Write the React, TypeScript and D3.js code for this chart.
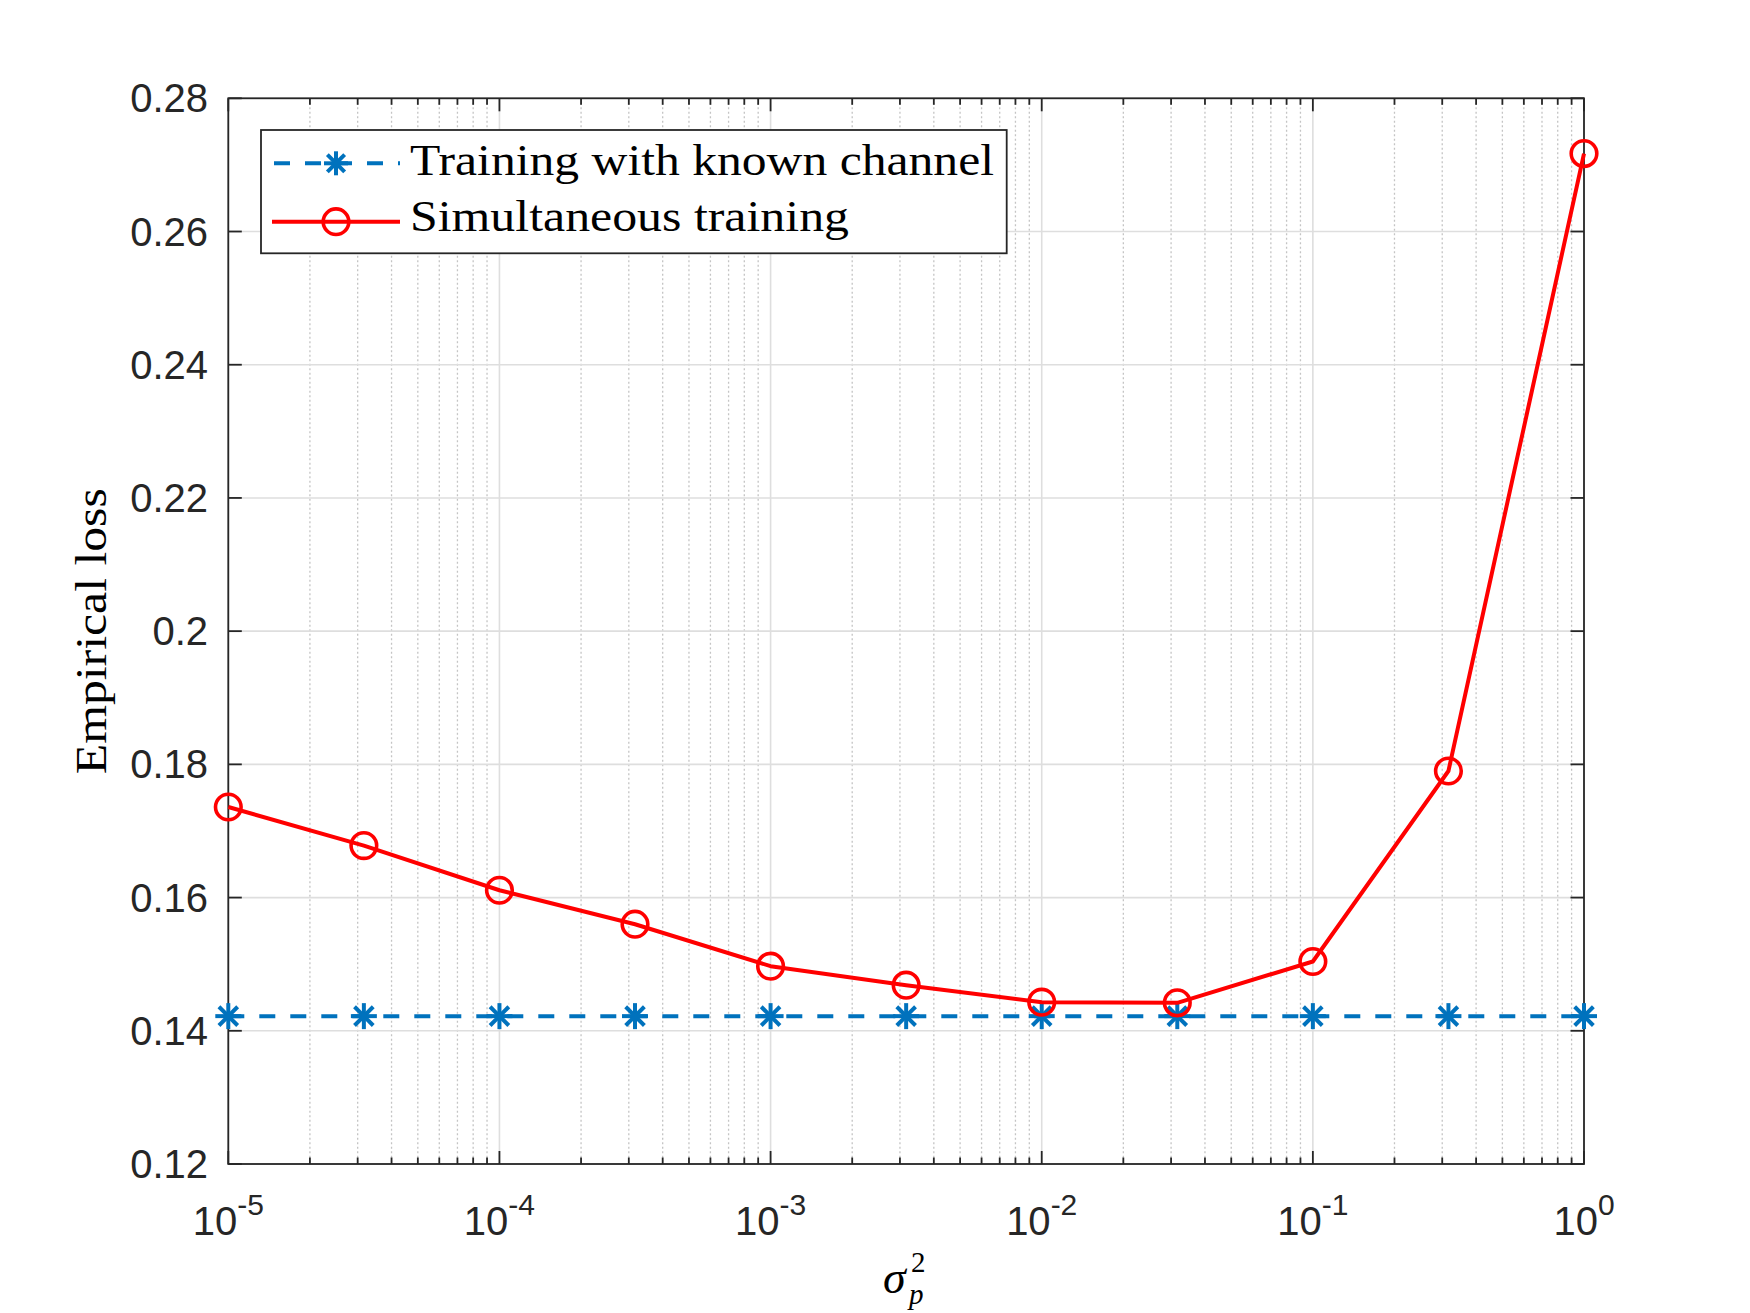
import React from "react";
import * as d3 from "d3";

const sigmaP2 = [1e-5, 3.1623e-5, 1e-4, 3.1623e-4, 1e-3, 3.1623e-3, 1e-2, 3.1623e-2, 1e-1, 3.1623e-1, 1];
const knownChannel = [0.1422, 0.1422, 0.1422, 0.1422, 0.1422, 0.1422, 0.1422, 0.1422, 0.1422, 0.1422, 0.1422];
const simultaneous = [0.1736, 0.1678, 0.1611, 0.156, 0.1497, 0.14685, 0.1443, 0.1442, 0.1504, 0.179, 0.2717];
const yTicks = [0.12, 0.14, 0.16, 0.18, 0.2, 0.22, 0.24, 0.26, 0.28];
const xTickExps = [-5, -4, -3, -2, -1, 0];
const legendLabels = ["Training with known channel", "Simultaneous training"];

const W = 1750;
const H = 1313;
const L = 228.3, R = 1584, T = 98.3, B = 1164;
const AX = "#262626";
const BLUE = "#0072BD";
const RED = "#FF0000";

function Asterisk({ x, y, s, color }: { x: number; y: number; s: number; color: string }) {
  const d = s * 0.72;
  return (
    <g stroke={color} strokeWidth={4} strokeLinecap="butt">
      <line x1={x} y1={y - s} x2={x} y2={y + s} />
      <line x1={x - s} y1={y} x2={x + s} y2={y} />
      <line x1={x - d} y1={y - d} x2={x + d} y2={y + d} />
      <line x1={x - d} y1={y + d} x2={x + d} y2={y - d} />
    </g>
  );
}

export default function App() {
  const x = d3.scaleLog().domain([1e-5, 1]).range([L, R]);
  const y = d3.scaleLinear().domain([0.12, 0.28]).range([B, T]);

  const minor: number[] = [];
  for (let e = -5; e < 0; e++) {
    for (let m = 2; m <= 9; m++) minor.push(m * Math.pow(10, e));
  }
  const majors = xTickExps.map((e) => Math.pow(10, e));

  const line = d3
    .line<number>()
    .x((_, i) => x(sigmaP2[i]))
    .y((v) => y(v));

  const font = "'Liberation Sans', Arial, Helvetica, sans-serif";
  const serif = "'Liberation Serif', 'Times New Roman', serif";

  return (
    <div style={{ position: "absolute", left: 0, top: 0 }}>
      <svg width={W} height={H} viewBox={`0 0 ${W} ${H}`} style={{ display: "block", background: "#fff" }}>
        <rect x={0} y={0} width={W} height={H} fill="#fff" />
        {minor.map((v, i) => (
          <line key={"mg" + i} x1={x(v)} x2={x(v)} y1={T} y2={B} stroke="#c4c4c4" strokeWidth={1.3} strokeDasharray="2 2.5" />
        ))}
        {majors.map((v, i) => (
          <line key={"Mg" + i} x1={x(v)} x2={x(v)} y1={T} y2={B} stroke="#dedede" strokeWidth={1.6} />
        ))}
        {yTicks.map((v, i) => (
          <line key={"yg" + i} x1={L} x2={R} y1={y(v)} y2={y(v)} stroke="#dedede" strokeWidth={1.6} />
        ))}

        <rect x={L} y={T} width={R - L} height={B - T} fill="none" stroke={AX} strokeWidth={1.8} />
        {majors.map((v, i) => (
          <g key={"xt" + i} stroke={AX} strokeWidth={1.8}>
            <line x1={x(v)} x2={x(v)} y1={B} y2={B - 13} />
            <line x1={x(v)} x2={x(v)} y1={T} y2={T + 13} />
          </g>
        ))}
        {minor.map((v, i) => (
          <g key={"xm" + i} stroke={AX} strokeWidth={1.8}>
            <line x1={x(v)} x2={x(v)} y1={B} y2={B - 6.5} />
            <line x1={x(v)} x2={x(v)} y1={T} y2={T + 6.5} />
          </g>
        ))}
        {yTicks.map((v, i) => (
          <g key={"yt" + i} stroke={AX} strokeWidth={1.8}>
            <line x1={L} x2={L + 13.5} y1={y(v)} y2={y(v)} />
            <line x1={R} x2={R - 13.5} y1={y(v)} y2={y(v)} />
          </g>
        ))}

        {yTicks.map((v, i) => (
          <text key={"yl" + i} x={208} y={y(v) + 14} textAnchor="end" fontFamily={font} fontSize={40} fill={AX}>
            {d3.format("")(+v.toFixed(2))}
          </text>
        ))}
        {xTickExps.map((e, i) => (
          <text key={"xl" + i} x={x(Math.pow(10, e))} y={1235} textAnchor="middle" fontFamily={font} fontSize={40} fill={AX}>
            10
            <tspan dy={-20} fontSize={30}>{e === 0 ? "0" : "-" + Math.abs(e)}</tspan>
          </text>
        ))}

        <path d={line(knownChannel) || ""} fill="none" stroke={BLUE} strokeWidth={4} strokeDasharray="16 15" />
        {knownChannel.map((v, i) => (
          <Asterisk key={"k" + i} x={x(sigmaP2[i])} y={y(v)} s={13} color={BLUE} />
        ))}
        <path d={line(simultaneous) || ""} fill="none" stroke={RED} strokeWidth={4} strokeLinejoin="round" />
        {simultaneous.map((v, i) => (
          <circle key={"s" + i} cx={x(sigmaP2[i])} cy={y(v)} r={12.8} fill="none" stroke={RED} strokeWidth={3.6} />
        ))}

        <rect x={261} y={130} width={745.7} height={123.3} fill="#fff" stroke={AX} strokeWidth={1.8} />
        <line x1={274} x2={400} y1={163.3} y2={163.3} stroke={BLUE} strokeWidth={4} strokeDasharray="16 15" />
        <Asterisk x={336} y={163.3} s={12} color={BLUE} />
        <line x1={272} x2={400} y1={221.7} y2={221.7} stroke={RED} strokeWidth={4} />
        <circle cx={336} cy={221.7} r={12.8} fill="none" stroke={RED} strokeWidth={3.6} />
        <text x={410} y={175} fontFamily={serif} fontSize={44} fill="#000" textLength={584} lengthAdjust="spacingAndGlyphs">
          {legendLabels[0]}
        </text>
        <text x={410} y={231} fontFamily={serif} fontSize={44} fill="#000" textLength={439} lengthAdjust="spacingAndGlyphs">
          {legendLabels[1]}
        </text>

        <text
          transform={`translate(106, ${(T + B) / 2}) rotate(-90)`}
          textAnchor="middle"
          fontFamily={serif}
          fontSize={44}
          fill="#000"
          textLength={286}
          lengthAdjust="spacingAndGlyphs"
        >
          Empirical loss
        </text>
        <text x={883} y={1293} fontFamily={serif} fontStyle="italic" fontSize={46} fill="#000">
          σ
          <tspan x={909} y={1304} fontSize={29}>p</tspan>
          <tspan x={911} y={1272} fontSize={29} fontStyle="normal">2</tspan>
        </text>
      </svg>
    </div>
  );
}
